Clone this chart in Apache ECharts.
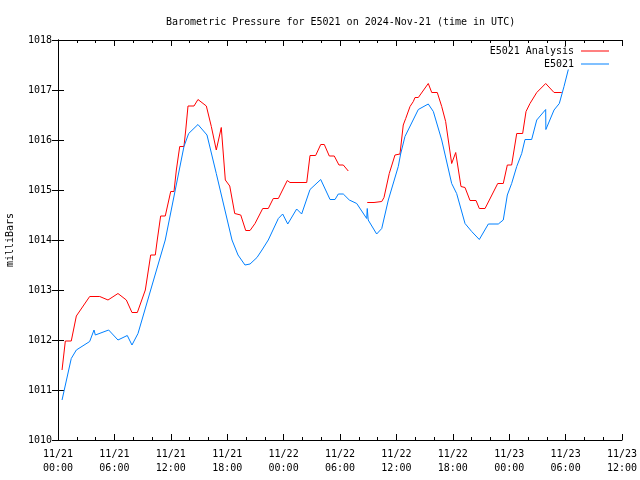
<!DOCTYPE html>
<html>
<head>
<meta charset="utf-8">
<script src="https://cdn.jsdelivr.net/npm/echarts@6/dist/echarts.min.js"></script>
<style>html,body{margin:0;padding:0;background:#fff}#c{width:640px;height:480px}</style>
</head>
<body>
<div id="c"></div>
<script>
// Hours since 2024-11-21 00:00 UTC
var analysisHours = [0.43,0.78,1.41,1.95,3.37,4.44,5.32,6.38,7.27,7.87,8.44,9.29,9.86,10.35,10.56,10.92,11.41,11.99,12.34,12.59,12.95,13.4,13.59,13.83,14.47,14.89,15.78,16.31,16.84,17.37,17.8,18.27,18.8,19.44,19.97,20.43,20.96,21.78,22.37,22.9,23.44,24.39,24.68,26.46,26.81,27.41,27.95,28.33,28.86,29.39,29.89,30.35,30.88,32.0,32.9,33.62,33.83,34.44,34.68,35.24,35.85,36.38,36.73,36.99,37.45,37.8,37.98,38.33,39.39,39.76,40.35,40.82,41.24,41.52,41.88,42.31,42.87,43.3,43.83,44.47,44.82,45.43,46.78,47.37,47.8,48.26,48.8,49.43,49.79,50.21,50.93,51.88,52.77,53.59];
var analysisValues = [1011.4,1011.98,1011.98,1012.48,1012.87,1012.87,1012.8,1012.93,1012.8,1012.55,1012.55,1013.0,1013.7,1013.7,1014.0,1014.48,1014.48,1014.97,1014.97,1015.4,1015.87,1015.87,1016.2,1016.68,1016.68,1016.81,1016.68,1016.27,1015.8,1016.25,1015.2,1015.08,1014.53,1014.5,1014.19,1014.19,1014.33,1014.63,1014.63,1014.83,1014.83,1015.19,1015.15,1015.15,1015.69,1015.69,1015.91,1015.91,1015.68,1015.68,1015.5,1015.5,1015.38,null,1014.75,1014.75,1014.77,1014.77,1014.85,1015.33,1015.7,1015.72,1016.3,1016.43,1016.67,1016.77,1016.85,1016.85,1017.13,1016.95,1016.95,1016.67,1016.37,1016.0,1015.53,1015.75,1015.07,1015.05,1014.79,1014.79,1014.63,1014.63,1015.13,1015.13,1015.5,1015.5,1016.13,1016.13,1016.57,1016.73,1016.95,1017.13,1016.95,1016.95];
var stationHours = [0.43,1.41,1.95,3.37,3.83,3.97,5.39,6.38,7.37,7.87,8.51,11.41,13.4,13.9,14.89,15.85,16.84,18.51,19.15,19.89,20.43,21.17,21.7,22.37,23.44,23.9,24.44,25.39,25.92,26.81,27.95,28.94,29.47,29.82,30.35,30.99,31.78,32.84,32.9,33.0,33.9,34.44,35.14,36.2,36.45,36.91,38.33,39.39,39.93,40.82,41.88,42.41,43.3,44.01,44.82,45.78,46.84,47.37,47.8,48.26,48.8,49.33,49.68,50.39,50.93,51.88,51.9,52.77,53.33,53.83,54.29];
var stationValues = [1010.8,1011.63,1011.8,1011.97,1012.2,1012.1,1012.2,1012.0,1012.09,1011.9,1012.13,1014.0,1015.87,1016.13,1016.31,1016.1,1015.33,1014.0,1013.7,1013.5,1013.52,1013.65,1013.8,1014.0,1014.43,1014.52,1014.32,1014.62,1014.52,1015.01,1015.21,1014.81,1014.81,1014.92,1014.92,1014.8,1014.73,1014.43,1014.63,1014.4,1014.12,1014.23,1014.8,1015.47,1015.72,1016.07,1016.61,1016.72,1016.57,1016.0,1015.13,1014.93,1014.33,1014.17,1014.01,1014.32,1014.32,1014.4,1014.9,1015.13,1015.47,1015.73,1016.01,1016.01,1016.4,1016.61,1016.21,1016.6,1016.73,1017.07,1017.41];
var xTickLabels = ['11/21\n00:00','11/21\n06:00','11/21\n12:00','11/21\n18:00','11/22\n00:00','11/22\n06:00','11/22\n12:00','11/22\n18:00','11/23\n00:00','11/23\n06:00','11/23\n12:00'];
var seriesNames = ['E5021 Analysis','E5021'];
var titleText = 'Barometric Pressure for E5021 on 2024-Nov-21 (time in UTC)';
var yAxisName = 'milliBars';

var FONT = 'DejaVu Sans Mono';
function pairs(xs, ys){ return xs.map(function(x,i){ return [x, ys[i] === null ? '-' : ys[i]]; }); }

var chart = echarts.init(document.getElementById('c'), null, {renderer:'canvas'});
var axisLine = {show:true, lineStyle:{color:'#000', width:1}};
chart.setOption({
  animation:false,
  backgroundColor:'#fff',
  title:{text:titleText, left:161, top:12, textStyle:{fontFamily:FONT, fontSize:10, fontWeight:'normal', color:'#000'}},
  legend:[
    {data:[seriesNames[0]], right:26, top:41, orient:'vertical', align:'right', icon:'rect', itemWidth:28, itemHeight:1, itemGap:0,
     textStyle:{fontFamily:FONT, fontSize:10, color:'#000', padding:[0,2,0,0]}},
    {data:[seriesNames[1]], right:26, top:54, orient:'vertical', align:'right', icon:'rect', itemWidth:28, itemHeight:1, itemGap:0,
     textStyle:{fontFamily:FONT, fontSize:10, color:'#000', padding:[0,2,0,0]}}
  ],
  grid:{left:58, right:18, top:40, bottom:40, containLabel:false, outerBoundsMode:'none'},
  xAxis:[
    {type:'value', min:0, max:60, interval:6, position:'bottom',
     axisLine:axisLine, splitLine:{show:false},
     axisTick:{show:true, inside:true, length:6, lineStyle:{color:'#000'}},
     minorTick:{show:true, splitNumber:3, length:3, lineStyle:{color:'#000'}},
     axisLabel:{fontFamily:FONT, fontSize:10, color:'#000', margin:7, lineHeight:14,
       formatter:function(v){ return xTickLabels[Math.round(v/6)] || ''; }}},
    {type:'value', min:0, max:60, interval:6, position:'top',
     axisLine:axisLine, splitLine:{show:false},
     axisTick:{show:true, inside:true, length:6, lineStyle:{color:'#000'}},
     minorTick:{show:true, splitNumber:3, length:3, lineStyle:{color:'#000'}},
     axisLabel:{show:false}}
  ],
  yAxis:[
    {type:'value', min:1010, max:1018, interval:1, position:'left',
     name:yAxisName, nameLocation:'middle', nameGap:43, nameRotate:90,
     nameTextStyle:{fontFamily:FONT, fontSize:10, color:'#000'},
     axisLine:axisLine, splitLine:{show:false},
     axisTick:{show:true, inside:true, length:6, lineStyle:{color:'#000'}},
     axisLabel:{fontFamily:FONT, fontSize:10, color:'#000', margin:6, formatter:function(v){ return String(v); }}},
    {type:'value', min:1010, max:1018, interval:1, position:'right',
     axisLine:axisLine, splitLine:{show:false},
     axisTick:{show:true, inside:true, length:6, lineStyle:{color:'#000'}},
     axisLabel:{show:false}}
  ],
  series:[
    {name:seriesNames[0], type:'line', xAxisIndex:0, yAxisIndex:0, data:pairs(analysisHours, analysisValues),
     showSymbol:false, symbol:'none', connectNulls:false, color:'#ff0000', lineStyle:{width:1, color:'#ff0000'}},
    {name:seriesNames[1], type:'line', xAxisIndex:0, yAxisIndex:0, data:pairs(stationHours, stationValues),
     showSymbol:false, symbol:'none', color:'#0080ff', lineStyle:{width:1, color:'#0080ff'}}
  ]
});
</script>
</body>
</html>
